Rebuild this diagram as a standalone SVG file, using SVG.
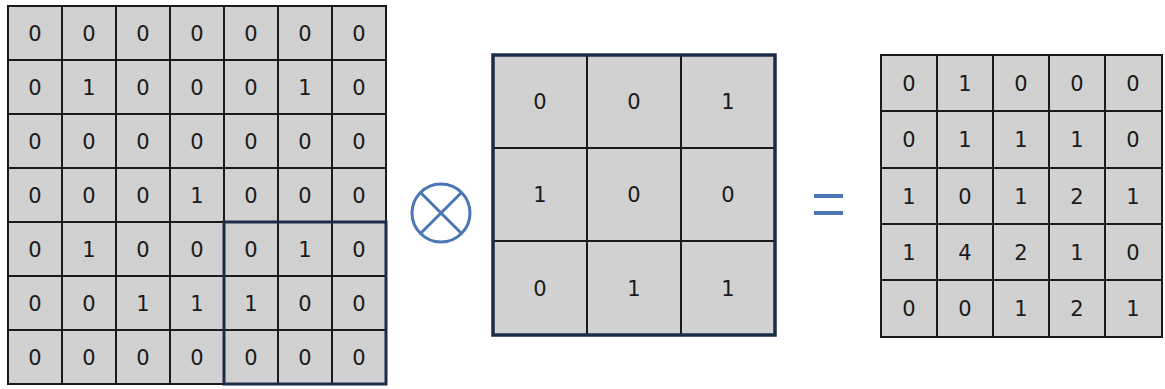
<svg xmlns="http://www.w3.org/2000/svg" width="1165" height="389" viewBox="0 0 1165 389">
<style>
.bg{fill:#d1d1d1;}
.ln{stroke:#1a1a1a;stroke-width:2;fill:none;}
.hl{stroke:#1c2b47;stroke-width:3;fill:none;}
.ob{stroke:#1c2b47;stroke-width:3.5;fill:none;}
.sym{stroke:#4a77b4;stroke-width:3;fill:none;}
text{font-family:"DejaVu Sans","Liberation Sans",sans-serif;font-size:21px;fill:#1a1a1a;text-anchor:middle;}
</style>
<rect width="1165" height="389" fill="#ffffff"/>
<g id="input-grid">
<rect class="bg" x="8" y="6" width="378" height="378"/>
<path class="ln" d="M8,6H386V384H8Z M62,6V384 M116,6V384 M170,6V384 M224,6V384 M278,6V384 M332,6V384 M8,60H386 M8,114H386 M8,168H386 M8,222H386 M8,276H386 M8,330H386"/>
<g>
<text x="35" y="41">0</text><text x="89" y="41">0</text><text x="143" y="41">0</text><text x="197" y="41">0</text><text x="251" y="41">0</text><text x="305" y="41">0</text><text x="359" y="41">0</text>
<text x="35" y="95">0</text><text x="89" y="95">1</text><text x="143" y="95">0</text><text x="197" y="95">0</text><text x="251" y="95">0</text><text x="305" y="95">1</text><text x="359" y="95">0</text>
<text x="35" y="149">0</text><text x="89" y="149">0</text><text x="143" y="149">0</text><text x="197" y="149">0</text><text x="251" y="149">0</text><text x="305" y="149">0</text><text x="359" y="149">0</text>
<text x="35" y="203">0</text><text x="89" y="203">0</text><text x="143" y="203">0</text><text x="197" y="203">1</text><text x="251" y="203">0</text><text x="305" y="203">0</text><text x="359" y="203">0</text>
<text x="35" y="257">0</text><text x="89" y="257">1</text><text x="143" y="257">0</text><text x="197" y="257">0</text><text x="251" y="257">0</text><text x="305" y="257">1</text><text x="359" y="257">0</text>
<text x="35" y="311">0</text><text x="89" y="311">0</text><text x="143" y="311">1</text><text x="197" y="311">1</text><text x="251" y="311">1</text><text x="305" y="311">0</text><text x="359" y="311">0</text>
<text x="35" y="365">0</text><text x="89" y="365">0</text><text x="143" y="365">0</text><text x="197" y="365">0</text><text x="251" y="365">0</text><text x="305" y="365">0</text><text x="359" y="365">0</text>
</g>
<rect class="hl" x="224" y="222" width="162" height="162"/>
</g>
<g id="convolve-symbol">
<circle class="sym" cx="441" cy="213" r="29"/>
<path class="sym" d="M420.5,192.5L461.5,233.5M461.5,192.5L420.5,233.5"/>
</g>
<g id="kernel-grid">
<rect class="bg" x="493" y="55" width="282" height="280"/>
<path class="ln" d="M587,55V335 M681,55V335 M493,148H775 M493,241H775"/>
<rect class="ob" x="493" y="55" width="282" height="280"/>
<text x="540" y="109">0</text><text x="634" y="109">0</text><text x="728" y="109">1</text>
<text x="540" y="202">1</text><text x="634" y="202">0</text><text x="728" y="202">0</text>
<text x="540" y="296">0</text><text x="634" y="296">1</text><text x="728" y="296">1</text>
</g>
<g id="equals-symbol">
<path d="M814,196H843 M814,213H843" stroke="#4a77b4" stroke-width="4" fill="none"/>
</g>
<g id="output-grid">
<rect class="bg" x="881" y="55" width="281" height="282"/>
<path class="ln" d="M881,55H1162V337H881Z M937,55V337 M993,55V337 M1049,55V337 M1105,55V337 M881,111H1162 M881,168H1162 M881,224H1162 M881,280H1162"/>
<text x="909" y="91">0</text><text x="965" y="91">1</text><text x="1021" y="91">0</text><text x="1077" y="91">0</text><text x="1133" y="91">0</text>
<text x="909" y="147">0</text><text x="965" y="147">1</text><text x="1021" y="147">1</text><text x="1077" y="147">1</text><text x="1133" y="147">0</text>
<text x="909" y="204">1</text><text x="965" y="204">0</text><text x="1021" y="204">1</text><text x="1077" y="204">2</text><text x="1133" y="204">1</text>
<text x="909" y="260">1</text><text x="965" y="260">4</text><text x="1021" y="260">2</text><text x="1077" y="260">1</text><text x="1133" y="260">0</text>
<text x="909" y="316">0</text><text x="965" y="316">0</text><text x="1021" y="316">1</text><text x="1077" y="316">2</text><text x="1133" y="316">1</text>
</g>
<g id="connectors"/>
</svg>
